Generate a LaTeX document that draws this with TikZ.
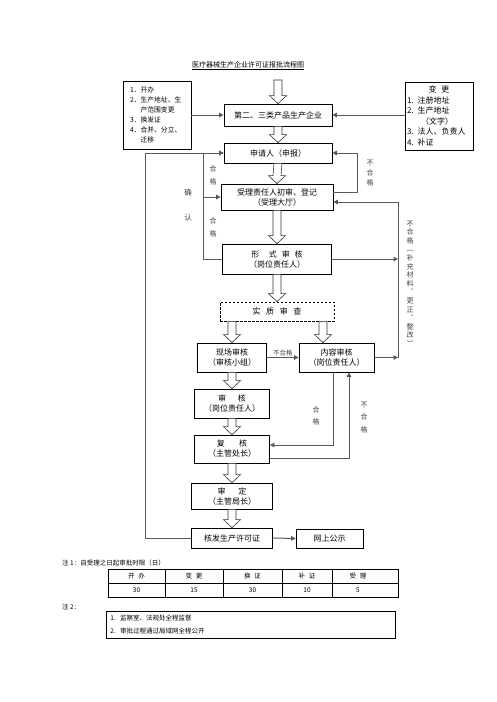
\documentclass[tikz,border=0pt]{standalone}
\usepackage{fontspec}
\newfontfamily\cjk{Noto Sans CJK SC}
\usetikzlibrary{arrows.meta,calc,positioning}
\tikzset{
  box/.style={draw, line width=0.8pt, align=center, inner sep=1pt, font=\cjk\fontsize{8}{10}\selectfont},
  conn/.style={draw=black!65, line width=1pt, -{Triangle[length=4.5pt,width=4.5pt]}},
  openarr/.style={draw=black!80, fill=white, line width=0.6pt, to path={
    ($(\tikztostart)+(-4,0)$) -- ($(\tikztotarget)+(-4,-8)$) -- ($(\tikztotarget)+(-8.5,-8)$)
    -- (\tikztotarget) -- ($(\tikztotarget)+(8.5,-8)$) -- ($(\tikztotarget)+(4,-8)$)
    -- ($(\tikztostart)+(4,0)$) -- cycle}},
  lbl/.style={inner sep=0pt, text=black!75, font=\cjk\fontsize{7}{#1}\selectfont, align=center},
  lbl/.default=13,
  note/.style={inner sep=0pt, font=\cjk\fontsize{6.5}{8}\selectfont}
}
\begin{document}
\begin{tikzpicture}[x=1pt,y=-1pt]
\useasboundingbox (0,0) rectangle (496,702);
\node[font=\cjk\fontsize{7}{8}\selectfont, inner sep=0pt] (title) at (248,66) {\underline{医疗器械生产企业许可证报批流程图}};

\node[box, minimum width=68, minimum height=68, text width=54, align=left, font=\cjk\fontsize{6.8}{10}\selectfont] (lb) at (157,115)
  {1．开办\\2．生产地址、生\\\phantom{2．}产范围变更\\3．换发证\\4．合并、分立、\\\phantom{4．}迁移};
\node[box, minimum width=68, minimum height=68, text width=64, align=left, font=\cjk\fontsize{8}{10.6}\selectfont] (rb) at (439,116)
  {\makebox[64pt]{变\hspace{.6em}更}\\1. 注册地址\\2. 生产地址\\\makebox[60pt]{（文字）}\\3. 法人、负责人\\4. 补证};

\node[box, minimum width=108, minimum height=22] (qy) at (278,115) {第二、三类产品生产企业};
\node[box, minimum width=108, minimum height=20] (sq) at (278,153) {申请人（申报）};
\node[box, minimum width=112, minimum height=26] (sl) at (277,197) {受理责任人初审、登记\\（受理大厅）};
\node[box, minimum width=109, minimum height=30] (xs) at (277,259) {形\hspace{1.2em}式\hspace{.6em}审\hspace{.6em}核\\（岗位责任人）};
\node[box, dash pattern=on 2.5pt off 1.5pt, minimum width=114, minimum height=19] (sz) at (277,311.5) {实\hspace{.7em}质\hspace{.7em}审\hspace{.7em}查};
\node[box, minimum width=69, minimum height=29] (xc) at (232,357.5) {现场审核\\（审核小组）};
\node[box, minimum width=75, minimum height=29] (nr) at (336.5,357.5) {内容审核\\（岗位责任人）};
\node[box, minimum width=75, minimum height=29] (sh) at (232,403.5) {审\hspace{1.5em}核\\（岗位责任人）};
\node[box, minimum width=75, minimum height=28] (fh) at (232,449) {复\hspace{1.8em}核\\（主管处长）};
\node[box, minimum width=81, minimum height=26] (sd) at (232,496) {审\hspace{1.6em}定\\（主管局长）};
\node[box, minimum width=81, minimum height=20] (hf) at (232,538) {核发生产许可证};
\node[box, minimum width=67, minimum height=19] (ws) at (329.5,538.5) {网上公示};

\coordinate (top) at (278,80);
\draw[openarr] (top) to (qy.north);
\draw[openarr] (qy.south) to (sq.north);
\draw[openarr] (sq.south) to (sl.north);
\draw[openarr] (sl.south) to (xs.north);
\draw[openarr] (xs.south) to (sz.north);
\draw[openarr] ([xshift=-45pt]sz.south) to (xc.north);
\draw[openarr] ([xshift=46pt]sz.south) to ([xshift=-13.5pt]nr.north);
\draw[openarr] (xc.south) to (sh.north);
\draw[openarr] (sh.south) to (fh.north);
\draw[openarr] (fh.south) to (sd.north);
\draw[openarr] (sd.south) to (hf.north);

\draw[conn] (lb.east) -- (qy.west);
\draw[conn] (rb.west |- qy.east) -- (qy.east);
\draw[conn] ([yshift=5pt]sl.east) -| ([xshift=25pt]sq.east) -- (sq.east);
\node[lbl=10] (bhg1) at (370,173) {不\\合\\格};

\coordinate (xl) at (203,0);
\draw[conn] (xs.west) -- (xs.west -| xl) |- (sq.west);
\draw[conn] (sl.west -| xl) -- (sl.west);
\draw[conn] (hf.west) -- ++(-46,0) |- (sq.west);
\node[lbl] (hg1) at (213,175.5) {合\\格};
\node[lbl] (hg2) at (213,227.5) {合\\格};
\node[lbl=25, font=\cjk\fontsize{7.5}{25}\selectfont] (qr) at (188,205.5) {确\\认};

\coordinate (xr) at (398,0);
\coordinate (rt) at ([yshift=-5pt]sl.east);
\draw[conn] (xr |- nr.east) -- (xr |- rt) -- (rt);
\draw[conn] (xs.east) -- (xs.east -| xr);
\draw[conn] (nr.east) -- (nr.east -| xr);
\node[lbl=8.6] (bc) at (410,283.5) {不\\合\\格\\︵\\补\\充\\材\\料\\︑\\更\\正\\︑\\整\\改\\︶};

\draw[conn] (xc.east) -- (nr.west) node[midway, above=1pt, lbl, font=\cjk\fontsize{6.5}{8}\selectfont] (bhg2) {不合格};
\draw[conn] ([xshift=-3.5pt]nr.south) |- ([yshift=4pt]fh.east);
\draw[conn] ([yshift=-9pt]fh.east) -| ([xshift=12.5pt]nr.south);
\node[lbl=12] (hg3) at (316,416) {合\\格};
\node[lbl=12.5] (bhg3) at (364,417.5) {不\\合\\格};
\draw[conn] (hf.east) -- (ws.west);

\node[note, anchor=west] (n1) at (62,563) {注 1：自受理之日起审批时限（日）};
\draw[line width=0.8pt] (108,569) rectangle (398,597);
\draw[line width=0.6pt] (108,583) -- (398,583);
\foreach \x in {165,223,282,332} \draw[line width=0.6pt] (\x,569) -- (\x,597);
\foreach \x/\a/\b [count=\i] in {136.5/开\hspace{.6em}办/30, 194/变\hspace{.6em}更/15, 252.5/换\hspace{.6em}证/30, 307/补\hspace{.6em}证/10, 358/受\hspace{.6em}理/5}
  {\node[note] (t\i) at (\x,576) {\a};
   \node[note] (v\i) at (\x,590) {\b};}

\node[note, anchor=west] (n2) at (62,607) {注 2：};
\node[draw, line width=0.8pt, anchor=north west, minimum width=289, minimum height=27, text width=281, align=left, inner sep=4pt, font=\cjk\fontsize{6.5}{13}\selectfont] (n2box) at (106,611)
  {1.\ \ 监察室、法规处全程监督\\2.\ \ 审批过程通过局域网全程公开};
\end{tikzpicture}
\end{document}
